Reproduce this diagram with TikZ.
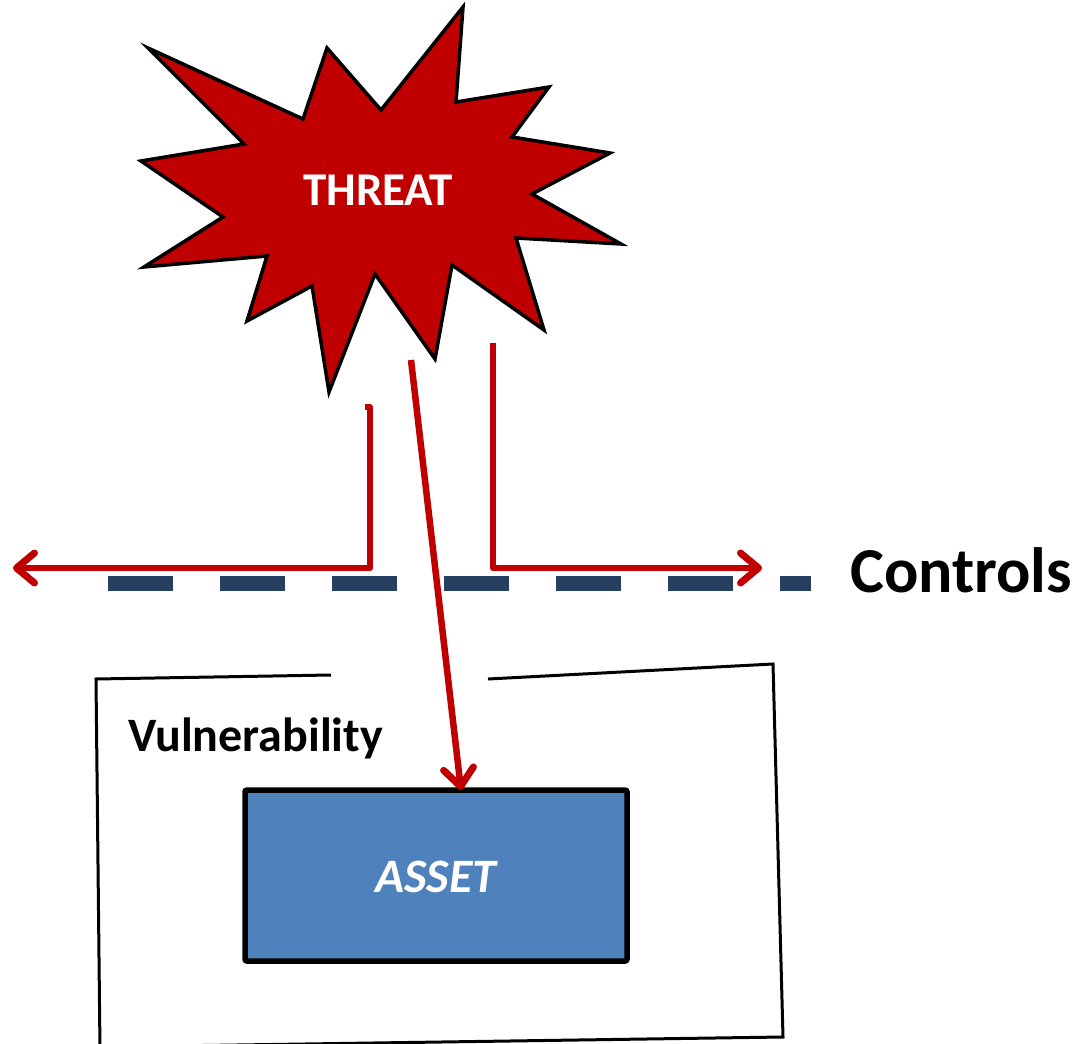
\documentclass[tikz,border=0pt]{standalone}
\usepackage{fontspec}
\setmainfont{Carlito}
\usetikzlibrary{arrows.meta}
\definecolor{threatred}{HTML}{C00000}
\definecolor{assetblue}{HTML}{4F81BD}
\definecolor{ctrlnavy}{HTML}{243F60}
\tikzset{
  burst/.style={fill=threatred, draw=black, line width=3.5pt, line join=miter},
  flow/.style={draw=threatred, line width=6.5pt, line join=round,
    -{Straight Barb[length=18pt,width=30pt,line width=7pt,round]}},
  ctrldash/.style={fill=ctrlnavy, draw=none},
  vulnline/.style={draw=black, line width=3pt},
  assetbox/.style={fill=assetblue, draw=black, line width=5.5pt, rounded corners=2pt,
    minimum width=382pt, minimum height=171pt, inner sep=0pt},
}
\begin{document}
\begin{tikzpicture}[x=1pt,y=-1pt]
\useasboundingbox (0,0) rectangle (1080,1044);

% threat starburst
\path[burst] (463,7) -- (456,102) -- (549,87) -- (512,137) -- (610,153) -- (532,194)
  -- (621,244) -- (516,238) -- (544,330) -- (452,265) -- (435,359) -- (375,274)
  -- (329,392) -- (312,286) -- (247,321) -- (267,256) -- (144,267) -- (223,217)
  -- (141,161) -- (244,144) -- (148,48) -- (303,119) -- (327,48) -- (381,110) -- cycle;
\node[anchor=base, text=white, font=\bfseries\fontsize{47}{47}\selectfont] (threat) at (378,205) {THREAT};

% control line
\foreach \x in {108,220,332,444,556,668}
  \path[ctrldash] (\x,576) rectangle ++(65,15);
\path[ctrldash] (780,576) rectangle ++(31,15);
\node[anchor=base west, inner sep=0pt, font=\bfseries\fontsize{64}{64}\selectfont] (controls) at (850,592) {Controls};

% vulnerability boundary with a gap in the top edge
\draw[vulnline] (331,675) -- (96,679) -- (100,1050);
\draw[vulnline] (488,679) -- (773,664) -- (783,1037) -- (100,1047);
\node[anchor=base west, inner sep=0pt, font=\bfseries\fontsize{48}{48}\selectfont] (vuln) at (128,751) {Vulnerability};

% asset
\node[assetbox] (asset) at (436,875.5) {};
\node[anchor=base, text=white, font=\bfseries\itshape\fontsize{48}{48}\selectfont] (assetlbl) at (436,892) {ASSET};

% threat paths
\coordinate (lstart) at (370,407);
\coordinate (lcorner) at (370,568);
\coordinate (lend) at (13,568);
\coordinate (rstart) at (493,343);
\coordinate (rcorner) at (493,568);
\coordinate (rend) at (762,568);
\coordinate (dstart) at (411,360);
\coordinate (dend) at (461,790);
\draw[flow] (365,407) -- (lstart) -- (lcorner) -- (lend);
\draw[flow] (rstart) -- (rcorner) -- (rend);
\draw[flow] (dstart) -- (dend);
\end{tikzpicture}
\end{document}
